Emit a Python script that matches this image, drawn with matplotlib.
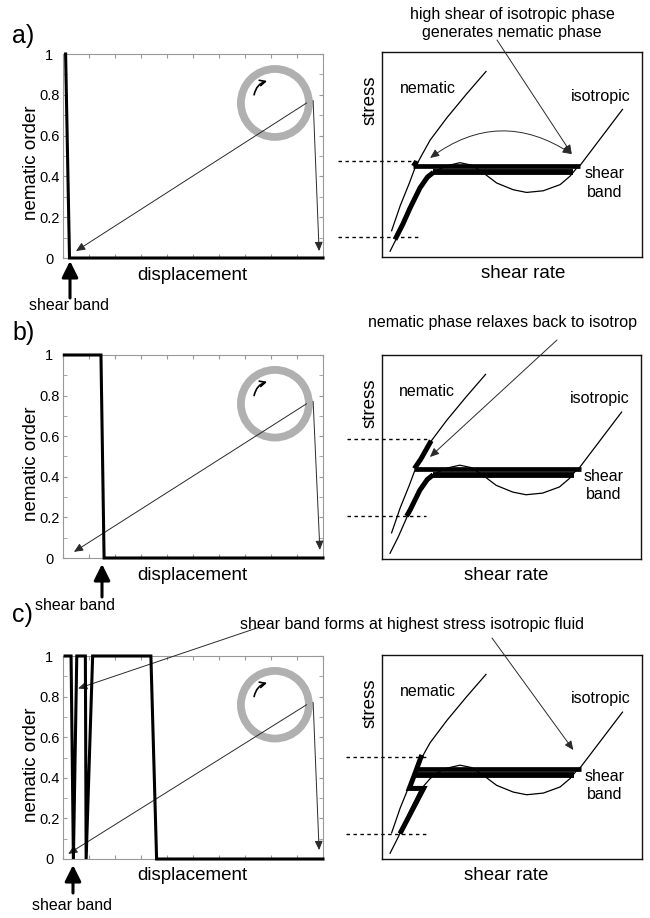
import numpy as np
import matplotlib
matplotlib.use("Agg")
import matplotlib.pyplot as plt
from matplotlib.patches import Ellipse

plt.rcParams['font.family'] = ['Liberation Sans', 'DejaVu Sans']

W, H = 650, 918

# left panels: nematic order vs displacement
disp_a = [1.0, 2.5, 100]
order_a = [1, 0, 0]
disp_b = [0.5, 14.6, 15.8, 100]
order_b = [1, 1, 0, 0]
disp_c = [0.8, 3.1, 4.0, 5.3, 8.6, 8.9, 11.4, 33.8, 36.0, 100]
order_c = [1, 1, 0, 1, 1, 0, 1, 1, 0, 0]
ytick_vals = [0, 0.2, 0.4, 0.6, 0.8, 1]
ytick_labels = ['0', '0.2', '0.4', '0.6', '0.8', '1']

# right panels: flow curves (shear rate u, stress v)
nem_u = [0.037, 0.07, 0.105, 0.127, 0.15, 0.185, 0.25, 0.325, 0.40]
nem_v = [0.128, 0.25, 0.36, 0.435, 0.49, 0.57, 0.68, 0.795, 0.905]
iso_u = [0.031, 0.063, 0.108, 0.146, 0.185, 0.215, 0.249, 0.300, 0.345, 0.39,
         0.441, 0.505, 0.556, 0.62, 0.685, 0.723, 0.749, 0.762, 0.925]
iso_v = [0.028, 0.109, 0.239, 0.337, 0.394, 0.425, 0.445, 0.46, 0.448, 0.41,
         0.361, 0.328, 0.315, 0.323, 0.353, 0.394, 0.434, 0.447, 0.72]

# thick (occupied) branches per panel
thick_a = [([0.05, 0.08, 0.108, 0.146, 0.175, 0.198], [0.085, 0.16, 0.239, 0.337, 0.39, 0.413]),
           ([0.121, 0.133], [0.443, 0.467])]
thick_b = [([0.095, 0.108, 0.146, 0.175, 0.198], [0.21, 0.239, 0.337, 0.39, 0.413]),
           ([0.125, 0.15, 0.19], [0.443, 0.49, 0.58])]
thick_c = [([0.153, 0.13, 0.105, 0.16, 0.069], [0.51, 0.43, 0.346, 0.346, 0.124])]

band_hi = 0.443
band_lo = 0.413
band_hi_u = [(0.121, 0.762), (0.125, 0.767), (0.13, 0.765)]
band_lo_u = [(0.198, 0.736), (0.198, 0.74), (0.13, 0.74)]

dot_hi = [0.467, 0.59, 0.50]
dot_lo = [0.096, 0.21, 0.123]
dot_start = [-0.169, -0.135, -0.137]
dot_end_hi = [0.135, 0.185, 0.172]
dot_end_lo = [0.146, 0.17, 0.172]

left_boxes = [(63, 54, 323, 258), (63, 355, 323, 558), (63, 656, 323, 859)]
right_boxes = [(382, 52, 642, 257), (382, 355, 641, 559), (382, 655, 642, 859)]

fig = plt.figure(figsize=(W / 100, H / 100), dpi=100)


def add_ax(box):
    l, t, r, b = box
    return fig.add_axes([l / W, 1 - b / H, (r - l) / W, (b - t) / H])


def ftext(x, y, s, **kw):
    return fig.text(x / W, 1 - y / H, s, **kw)


def fpix(x, y):
    return (x, H - y)


thin = dict(arrowstyle='-|>,head_length=0.45,head_width=0.2', lw=0.7,
            color='#2a2a2a', mutation_scale=12, shrinkA=0, shrinkB=0)

data_left = [(disp_a, order_a), (disp_b, order_b), (disp_c, order_c)]
ring_ends = [((0.05, 0.034), (0.985, 0.034)),
             ((0.042, 0.03), (0.988, 0.04)),
             ((0.02, 0.025), (0.985, 0.044))]

for i, box in enumerate(left_boxes):
    ax = add_ax(box)
    xs, ys = data_left[i]
    ax.plot(xs, ys, color='black', lw=2.2, clip_on=False, solid_joinstyle='miter', zorder=4)
    ax.set_xlim(0, 100)
    ax.set_ylim(0, 1)
    ax.set_xticks(np.arange(0, 101, 10))
    ax.set_xticklabels([])
    ax.set_yticks(ytick_vals)
    ax.set_yticks(np.arange(0.1, 1, 0.2), minor=True)
    ax.set_yticklabels(ytick_labels, fontsize=10.5, ha='center')
    ax.tick_params(axis='both', which='both', direction='in', length=3,
                   color='#999999', top=True, right=True)
    ax.tick_params(axis='y', pad=10)
    for s in ax.spines.values():
        s.set_color('#999999')
        s.set_linewidth(0.8)
    # rotating cylinder sketch
    ax.add_patch(Ellipse((0.815, 0.76), 2 * 34 / 260, 2 * 34 / 204, transform=ax.transAxes,
                         fill=False, edgecolor='#b0b0b0', lw=5.6))
    ax.annotate('', xy=(0.785, 0.868), xytext=(0.735, 0.80), xycoords='axes fraction',
                arrowprops=dict(arrowstyle='->,head_length=0.4,head_width=0.2', lw=1.2,
                                color='black', connectionstyle='arc3,rad=-0.3',
                                shrinkA=0, shrinkB=0))
    p1, p2 = ring_ends[i]
    ax.annotate('', xy=p1, xytext=(0.937, 0.76), xycoords='axes fraction', arrowprops=thin)
    ax.annotate('', xy=p2, xytext=(0.962, 0.772), xycoords='axes fraction', arrowprops=thin)
    t = box[1]
    b = box[3]
    ftext(32, (t + b) / 2 + 7, 'nematic order', fontsize=13.5, rotation=90,
          ha='center', va='center')
    ftext(192, b + 17, 'displacement', fontsize=13.5, ha='center', va='center')

thick_sets = [thick_a, thick_b, thick_c]
shear_rate_x = [523, 506, 506]
right_axes = []
for i, box in enumerate(right_boxes):
    ax = add_ax(box)
    right_axes.append(ax)
    ax.set_xlim(0, 1)
    ax.set_ylim(0, 1)
    ax.set_xticks([])
    ax.set_yticks([])
    for s in ax.spines.values():
        s.set_color('#111111')
        s.set_linewidth(1.0)
    ax.plot(nem_u, nem_v, color='black', lw=0.9)
    ax.plot(iso_u, iso_v, color='black', lw=0.9)
    for tu, tv in thick_sets[i]:
        ax.plot(tu, tv, color='black', lw=3.6, solid_capstyle='butt',
                solid_joinstyle='miter')
    u0, u1 = band_hi_u[i]
    ax.plot([u0, u1], [band_hi, band_hi], color='black', lw=3.4, solid_capstyle='butt')
    u0, u1 = band_lo_u[i]
    ax.plot([u0, u1], [band_lo, band_lo], color='black', lw=4.2, solid_capstyle='butt')
    ax.plot([dot_start[i], dot_end_hi[i]], [dot_hi[i], dot_hi[i]], color='black', lw=1.0,
            ls=(0, (2.5, 2.5)), clip_on=False)
    ax.plot([dot_start[i], dot_end_lo[i]], [dot_lo[i], dot_lo[i]], color='black', lw=1.0,
            ls=(0, (2.5, 2.5)), clip_on=False)
    ax.text(0.175, 0.82, 'nematic', fontsize=11.5, ha='center', va='center')
    ax.text(0.84, 0.785, 'isotropic', fontsize=11.5, ha='center', va='center')
    ax.text(0.855, 0.405, 'shear', fontsize=11.5, ha='center', va='center')
    ax.text(0.855, 0.315, 'band', fontsize=11.5, ha='center', va='center')
    t, b = box[1], box[3]
    ftext(370, t + 48, 'stress', fontsize=13.5, rotation=90, ha='center', va='center')
    ftext(shear_rate_x[i], b + 16, 'shear rate', fontsize=13.5, ha='center', va='center')

# panel letters
for lab, yb in [('a)', 43), ('b)', 340), ('c)', 622)]:
    ftext(12, yb, lab, fontsize=18, va='baseline', ha='left')

# shear band markers
big = dict(arrowstyle='-|>,head_length=0.7,head_width=0.35', lw=2.2, color='black',
           mutation_scale=14, shrinkA=0, shrinkB=0)
for (xa, tip, tail), (xt, yt) in [((70, 261, 298), (69, 306)),
                                  ((102, 564, 597), (75, 605)),
                                  ((73, 865, 893), (72, 905))]:
    fig.add_artist(plt.Annotation('', xy=fpix(xa, tip), xytext=fpix(xa, tail),
                                  xycoords='figure pixels', arrowprops=big))
    ftext(xt, yt, 'shear band', fontsize=11.5, ha='center', va='center')

# annotations
ra, rb, rc = right_axes
ftext(512, 15, 'high shear of isotropic phase', fontsize=11.5, ha='center', va='center')
ftext(512, 33, 'generates nematic phase', fontsize=11.5, ha='center', va='center')
ra.annotate('', xy=(0.73, 0.502), xytext=fpix(497, 40), xycoords='data',
            textcoords='figure pixels', arrowprops=thin, annotation_clip=False)
ra.annotate('', xy=(0.73, 0.502), xytext=(0.185, 0.483), xycoords='data',
            arrowprops=dict(arrowstyle='<|-|>,head_length=0.45,head_width=0.2', lw=0.7,
                            color='#2a2a2a', mutation_scale=12, shrinkA=0, shrinkB=0,
                            connectionstyle='arc3,rad=-0.35'))

ftext(503, 323, 'nematic phase relaxes back to isotrop', fontsize=11.5, ha='center',
      va='center')
rb.annotate('', xy=(0.185, 0.50), xytext=fpix(557, 340), xycoords='data',
            textcoords='figure pixels', arrowprops=thin, annotation_clip=False)

ftext(240, 625, 'shear band forms at highest stress isotropic fluid', fontsize=11.5,
      ha='left', va='center')
rc.annotate('', xy=(0.736, 0.534), xytext=fpix(492, 638), xycoords='data',
            textcoords='figure pixels', arrowprops=thin, annotation_clip=False)
fig.axes[2].annotate('', xy=(5.8, 0.84), xytext=fpix(260, 627), xycoords='data',
                     textcoords='figure pixels', arrowprops=thin, annotation_clip=False)

fig.savefig('out.png', dpi=100)
